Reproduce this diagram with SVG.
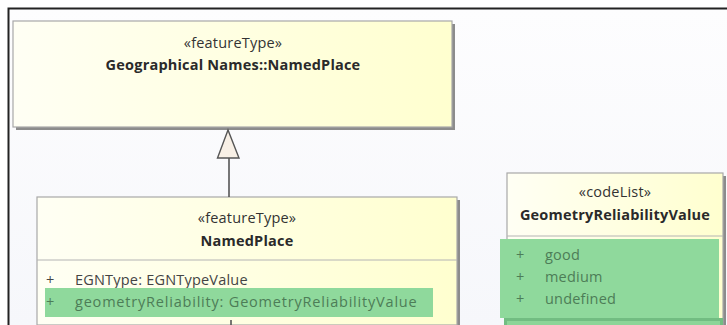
<svg xmlns="http://www.w3.org/2000/svg" width="727" height="325" viewBox="0 0 727 325">
  <defs>
    <linearGradient id="classFill" x1="0" y1="0" x2="1" y2="0">
      <stop offset="0" stop-color="#fffff4"/>
      <stop offset="1" stop-color="#ffffcf"/>
    </linearGradient>
    <linearGradient id="canvasFill" x1="0" y1="0" x2="0" y2="1">
      <stop offset="0" stop-color="#fdfdfe"/>
      <stop offset="1" stop-color="#f6f7fb"/>
    </linearGradient>
  </defs>
  <style>
    .box { fill: url(#classFill); stroke: #a8a8a8; stroke-width: 1.2; }
    .shadow { fill: #8c8c8c; }
    .divider { stroke: #b4b4b4; stroke-width: 1; }
    .stereo { font-family: "Open Sans", "Noto Sans", sans-serif; font-size: 14.5px; letter-spacing: 0.2px; fill: #333; text-anchor: middle; }
    .name { font-family: "Open Sans", "Noto Sans", sans-serif; font-size: 14.5px; letter-spacing: 0.2px; font-weight: bold; fill: #2a2a2a; text-anchor: middle; }
    .attr { font-family: "Open Sans", "Noto Sans", sans-serif; font-size: 14.5px; letter-spacing: 0.2px; fill: #444; }
    .hl { fill: #8fd99c; }
    .hlText { font-family: "Open Sans", "Noto Sans", sans-serif; font-size: 14.5px; letter-spacing: 0.2px; fill: #4d7d57; }
    .wide { letter-spacing: 0.8px; }
    .edge { stroke: #555; stroke-width: 1.6; fill: none; }
  </style>

  <!-- canvas and frame -->
  <rect x="0" y="0" width="727" height="325" fill="#ffffff"/>
  <rect x="9" y="9" width="718" height="316" fill="url(#canvasFill)"/>
  <path d="M8.5 325 V8.5 H727" fill="none" stroke="#222" stroke-width="2"/>

  <!-- Geographical Names::NamedPlace -->
  <g id="node-gn-namedplace">
    <rect class="shadow" x="16" y="24" width="439" height="106"/>
    <rect class="box" x="13" y="21" width="439" height="106"/>
    <text class="stereo" x="233" y="48">«featureType»</text>
    <text class="name" x="233" y="70">Geographical Names::NamedPlace</text>
  </g>

  <!-- NamedPlace -->
  <g id="node-namedplace">
    <rect class="shadow" x="40" y="200" width="420" height="125"/>
    <rect class="box" x="37" y="197" width="420" height="128"/>
    <text class="stereo" x="247" y="223">«featureType»</text>
    <text class="name" x="247" y="246">NamedPlace</text>
    <line class="divider" x1="37" y1="260" x2="457" y2="260"/>
    <text class="attr" x="46" y="285">+</text>
    <text class="attr" x="75" y="285">EGNType: EGNTypeValue</text>
    <rect class="hl" x="45" y="288" width="388" height="29"/>
    <text class="hlText" x="46" y="307">+</text>
    <text class="hlText wide" x="75" y="307">geometryReliability: GeometryReliabilityValue</text>
  </g>

  <!-- GeometryReliabilityValue -->
  <g id="node-geometry-reliability-value">
    <rect class="shadow" x="510" y="176" width="216" height="149"/>
    <rect class="box" x="507" y="173" width="216" height="152"/>
    <text class="stereo" x="615" y="197">«codeList»</text>
    <text class="name" x="615" y="220">GeometryReliabilityValue</text>
    <line class="divider" x1="507" y1="236" x2="723" y2="236"/>
    <rect x="504" y="318" width="219" height="7" fill="#72bd82"/>
    <rect class="hl" x="500" y="239" width="219" height="79"/>
    <rect x="507" y="321" width="213" height="4" fill="#8cd598"/>
    <text class="hlText" x="516" y="260">+</text>
    <text class="hlText" x="545" y="260">good</text>
    <text class="hlText" x="516" y="282">+</text>
    <text class="hlText" x="545" y="282">medium</text>
    <text class="hlText" x="516" y="304">+</text>
    <text class="hlText" x="545" y="304">undefined</text>
  </g>

  <!-- connectors -->
  <g id="connectors">
    <line class="edge" x1="229" y1="158" x2="229" y2="197"/>
    <polygon points="228,130 217.5,158 239,158" fill="#f8f0e6" stroke="#555" stroke-width="1.4" stroke-linejoin="miter"/>
    <line class="edge" x1="231" y1="320" x2="231" y2="325"/>
  </g>
</svg>
